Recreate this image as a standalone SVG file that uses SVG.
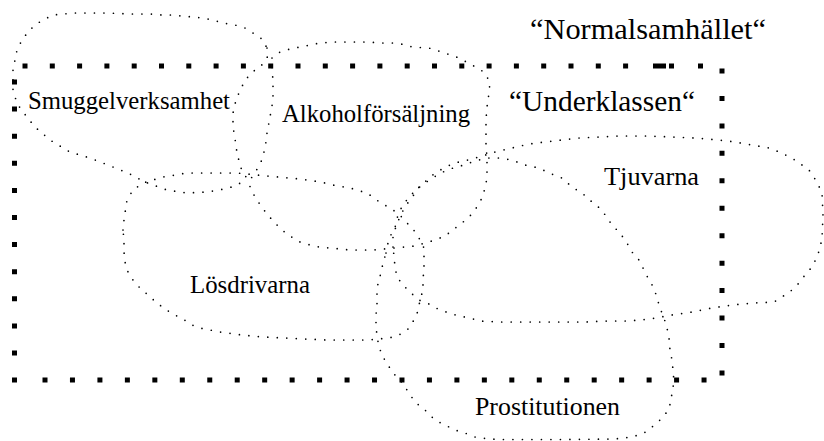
<svg xmlns="http://www.w3.org/2000/svg" width="824" height="441" viewBox="0 0 824 441">
<style>
.blob{fill:none;stroke:#000;stroke-width:1.7;stroke-dasharray:0 9.5;stroke-linecap:round;stroke-linejoin:round}
.sq{fill:none;stroke:#000;stroke-width:5;stroke-linecap:butt}
.lbl{font-family:"Liberation Serif","Times New Roman",serif;font-size:25px;fill:#000}
.ttl{font-family:"Liberation Serif","Times New Roman",serif;font-size:29px;fill:#000}
</style>
<rect width="824" height="441" fill="#fff"/>
<g id="normalsamhallet">
<text class="ttl" x="530" y="39" textLength="236" lengthAdjust="spacingAndGlyphs">“Normalsamhället“</text>
</g>
<g id="underklassen">
<line class="sq" x1="22.5" y1="66" x2="630" y2="66" stroke-dasharray="5 22.3"/>
<rect x="653" y="63.5" width="13" height="5"/>
<rect x="669" y="63.5" width="5" height="5"/>
<rect x="698" y="63.5" width="5" height="5"/>
<line class="sq" x1="722" y1="68.5" x2="722" y2="376" stroke-dasharray="5 22.45"/>
<line class="sq" x1="14.5" y1="79.5" x2="14.5" y2="383" stroke-dasharray="5 22.1"/>
<line class="sq" x1="42.5" y1="380" x2="707" y2="380" stroke-dasharray="5 22.46"/>
<text class="ttl" x="509" y="111" textLength="186" lengthAdjust="spacingAndGlyphs">“Underklassen“</text>
</g>
<g id="smuggelverksamhet">
<polygon class="blob" points="267,48 268,56 263,64 255,70 247,78 241,88 236,100 233,113 233,127 235,138 236,147 238,157 241,168 246,177 239,184 229,188 219,190 207,192 187,193 167,190 145,182 128,173 108,165 90,158 70,152 50,140 35,127 27,117 20,108 16,100 13,90 13,80 13,70 15,60 17,50 22,40 28,32 35,25 43,20 53,15 63,14 75,13 87,13 108,13 130,14 150,14 162,15 172,15 182,16 193,17 203,18 213,20 223,23 235,25 245,28 253,33 262,39"/>
<text class="lbl" x="28" y="108.5" textLength="202" lengthAdjust="spacingAndGlyphs">Smuggelverksamhet</text>
</g>
<g id="alkoholforsaljning">
<polygon class="blob" points="272,58 280,52 290,49 300,47 310,45 320,43 333,42 350,42 367,42 383,43 395,43 407,45 412,47 429,48 445,53 459,58 472,65 484,72 490,82 489,93 487,107 486,120 486,135 486,146 487,157 487,167 487,178 485,188 482,198 477,207 470,216 462,223 454,229 445,236 435,240 425,243 415,246 404,247 394,248 384,249 373,250 362,250 350,250 340,249 330,248 319,247 310,245 300,242 290,236 282,230 274,222 267,214 261,206 255,197 250,187 250,180 256,171 261,162 264,152 266,142 267,133 270,117 273,100 273,90 273,80 272,70"/>
<text class="lbl" x="282" y="122" textLength="188" lengthAdjust="spacingAndGlyphs">Alkoholförsäljning</text>
</g>
<g id="losdrivarna">
<polygon class="blob" points="123,230 124,220 125,213 127,200 133,190 143,183 163,177 187,173 213,173 237,173 257,175 278,177 300,179 321,182 333,185 350,188 367,193 381,203 390,208 399,214 406,222 413,229 419,238 424,248 424,257 424,269 423,279 423,290 420,300 418,311 414,320 408,329 399,335 389,338 378,339 368,340 348,340 327,340 305,339 285,338 263,337 242,335 220,332 200,328 192,325 183,319 173,314 165,309 157,303 148,295 140,288 133,280 128,272 125,262 124,252 124,240"/>
<text class="lbl" x="190" y="293" textLength="120" lengthAdjust="spacingAndGlyphs">Lösdrivarna</text>
</g>
<g id="tjuvarna">
<polygon class="blob" points="393,247 393,235 397,224 401,214 407,204 413,196 419,187 427,180 435,173 444,168 454,163 464,161 479,157 495,152 512,148 529,144 545,142 562,140 579,138 599,137 619,136 645,136 672,137 695,138 719,140 735,142 752,145 769,148 782,153 795,160 809,170 817,182 822,193 823,215 822,238 820,248 817,257 812,267 805,275 799,283 792,290 782,297 774,302 754,303 732,305 712,308 692,312 672,315 650,319 629,321 607,321 585,322 544,322 500,322 480,321 470,318 459,316 449,313 438,309 429,304 419,300 411,293 403,285 397,277 395,267 394,256"/>
<text class="lbl" x="604" y="185" textLength="95" lengthAdjust="spacingAndGlyphs">Tjuvarna</text>
</g>
<g id="prostitutionen">
<polygon class="blob" points="386,253 388,243 392,232 396,225 398,214 403,205 409,197 417,189 425,183 434,177 443,172 453,168 464,165 475,161 487,158 499,158 512,160 525,165 539,168 549,173 562,178 572,187 582,193 592,202 602,210 607,218 613,226 620,233 627,243 632,252 639,260 644,270 649,280 654,288 657,298 660,308 664,318 667,328 669,338 670,350 672,360 673,370 674,382 672,392 671,402 667,412 660,420 652,427 644,433 632,437 615,439 560,439.5 500,439.5 489,439 475,437 465,433 455,430 445,425 435,420 425,410 415,402 407,390 400,380 393,373 388,365 383,357 379,347 377,336 376,326 376,315 377,304 377,294 378,283 381,273 383,263"/>
<text class="lbl" x="475" y="415" textLength="145" lengthAdjust="spacingAndGlyphs">Prostitutionen</text>
</g>
<g id="connectors"/>
</svg>
